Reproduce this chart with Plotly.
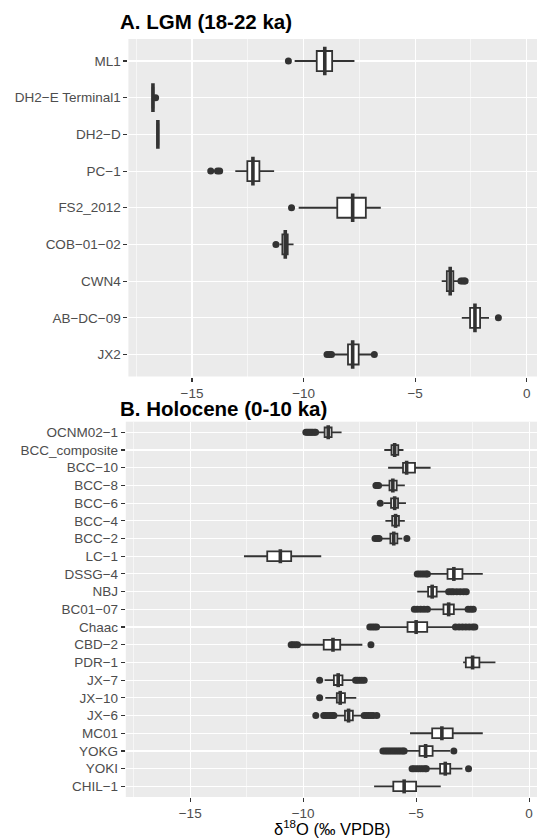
import plotly.graph_objects as go

# ---------------- Data ----------------
lgm_sites = ["ML1", "DH2−E Terminal1", "DH2−D", "PC−1", "FS2_2012",
             "COB−01−02", "CWN4", "AB−DC−09", "JX2"]
lgm_lower = [-10.40, -16.78, -16.56, -13.06, -10.22, -11.08, -3.81, -2.91, -8.64]
lgm_q1 = [-9.41, -16.77, -16.55, -12.52, -8.49, -10.95, -3.58, -2.54, -8.01]
lgm_median = [-9.05, -16.75, -16.53, -12.27, -7.80, -10.82, -3.43, -2.32, -7.80]
lgm_q3 = [-8.72, -16.73, -16.51, -11.98, -7.21, -10.71, -3.29, -2.09, -7.53]
lgm_upper = [-7.72, -16.70, -16.50, -11.32, -6.54, -10.45, -3.03, -1.69, -6.95]
lgm_outliers = {
    "ML1": [-10.68],
    "DH2−E Terminal1": [-16.63],
    "PC−1": [-14.16, -13.86, -13.76],
    "FS2_2012": [-10.54],
    "COB−01−02": [-11.24],
    "CWN4": [-2.95, -2.88, -2.80, -2.76],
    "AB−DC−09": [-1.27],
    "JX2": [-8.95, -8.85, -8.75, -6.83],
}

hol_sites = ["OCNM02−1", "BCC_composite", "BCC−10", "BCC−8", "BCC−6", "BCC−4",
             "BCC−2", "LC−1", "DSSG−4", "NBJ", "BC01−07", "Chaac", "CBD−2",
             "PDR−1", "JX−7", "JX−10", "JX−6", "MC01", "YOKG", "YOKI", "CHIL−1"]
hol_lower = [-9.39, -6.41, -6.24, -6.52, -6.44, -6.36, -6.56, -12.62, -4.47, -4.95,
             -4.39, -6.67, -10.20, -2.92, -9.05, -9.02, -8.56, -5.27, -5.49, -4.47, -6.86]
hol_q1 = [-9.05, -6.09, -5.58, -6.18, -6.11, -6.06, -6.14, -11.59, -3.61, -4.47,
          -3.79, -5.38, -9.09, -2.80, -8.64, -8.51, -8.15, -4.29, -4.85, -3.94, -6.01]
hol_median = [-8.89, -5.95, -5.42, -6.03, -5.95, -5.91, -5.99, -11.01, -3.33, -4.29,
              -3.56, -5.00, -8.68, -2.50, -8.45, -8.36, -7.99, -3.86, -4.58, -3.71, -5.53]
hol_q3 = [-8.74, -5.79, -5.05, -5.86, -5.80, -5.76, -5.83, -10.53, -2.95, -4.09,
          -3.33, -4.51, -8.36, -2.20, -8.26, -8.15, -7.80, -3.38, -4.27, -3.49, -5.00]
hol_upper = [-8.30, -5.56, -4.36, -5.50, -5.45, -5.50, -5.61, -9.20, -2.05, -3.64,
             -2.80, -3.33, -7.38, -1.49, -7.73, -7.65, -7.35, -2.05, -3.49, -2.95, -3.91]
hol_outliers = {
    "OCNM02−1": [-9.88, -9.82, -9.76, -9.70, -9.64, -9.58, -9.50, -9.45],
    "BCC−8": [-6.78, -6.72, -6.66],
    "BCC−6": [-6.59],
    "BCC−2": [-6.82, -6.72, -6.64, -5.41],
    "DSSG−4": [-4.95, -4.85, -4.75, -4.65, -4.55, -4.50],
    "NBJ": [-3.56, -3.45, -3.35, -3.20, -3.05, -2.90, -2.78],
    "BC01−07": [-5.08, -4.95, -4.80, -4.65, -4.50, -2.70, -2.58, -2.47],
    "Chaac": [-7.05, -6.95, -6.85, -6.75, -3.26, -3.10, -2.95, -2.80, -2.65, -2.50, -2.40],
    "CBD−2": [-10.53, -10.45, -10.35, -10.25, -7.00],
    "JX−7": [-9.27, -7.68, -7.60, -7.50, -7.40, -7.30],
    "JX−10": [-9.27],
    "JX−6": [-9.44, -9.09, -9.00, -8.90, -8.80, -8.70, -8.64,
             -7.30, -7.20, -7.10, -7.00, -6.90, -6.74],
    "YOKG": [-6.47, -6.38, -6.30, -6.22, -6.14, -6.06, -5.98, -5.90, -5.82,
             -5.74, -5.66, -5.58, -5.53, -3.33],
    "YOKI": [-5.18, -5.10, -5.00, -4.90, -4.80, -4.70, -4.60, -4.55, -2.68],
}

x_ticks = [-15, -10, -5, 0]
title_a = "A. LGM (18-22 ka)"
title_b = "B. Holocene (0-10 ka)"
x_title = "δ<sup>18</sup>O (‰ VPDB)"

# ---------------- Style ----------------
W, H = 537, 839
FONT = "Liberation Sans, Arial, Helvetica, sans-serif"
DARK = "#333333"
PANEL = "#EBEBEB"
TICKCOL = "#4D4D4D"


def py(px):
    return 1 - px / H


fig = go.Figure()


def add_panel(sites, lo, q1, med, q3, up, outs, xa, ya, med_size):
    fig.add_trace(go.Box(
        y=sites, q1=q1, median=med, q3=q3, lowerfence=lo, upperfence=up,
        orientation="h", fillcolor="white",
        line=dict(color=DARK, width=1.8), whiskerwidth=0,
        boxpoints=False, xaxis=xa, yaxis=ya, showlegend=False,
        hoverinfo="skip"))
    # thicker median lines (ggplot fatten = 2)
    fig.add_trace(go.Scatter(
        x=med, y=sites, mode="markers", xaxis=xa, yaxis=ya,
        marker=dict(symbol="line-ns", size=med_size,
                    line=dict(color=DARK, width=3.6)),
        showlegend=False, hoverinfo="skip"))
    ox, oy = [], []
    for s in sites:
        for v in outs.get(s, []):
            ox.append(v)
            oy.append(s)
    fig.add_trace(go.Scatter(
        x=ox, y=oy, mode="markers", xaxis=xa, yaxis=ya,
        marker=dict(color=DARK, size=7, line=dict(width=0)),
        showlegend=False, hoverinfo="skip"))


add_panel(lgm_sites, lgm_lower, lgm_q1, lgm_median, lgm_q3, lgm_upper,
          lgm_outliers, "x", "y", 20.5)
add_panel(hol_sites, hol_lower, hol_q1, hol_median, hol_q3, hol_upper,
          hol_outliers, "x2", "y2", 10)

xcommon = dict(
    tickvals=x_ticks, ticks="outside", ticklen=4, tickwidth=1.1, tickcolor=DARK,
    tickfont=dict(family=FONT, size=13.5, color=TICKCOL),
    showgrid=True, gridcolor="white", gridwidth=1.1,
    minor=dict(dtick=2.5, tick0=0, showgrid=True, gridcolor="white", gridwidth=0.55),
    zeroline=False, showline=False, fixedrange=True, automargin=False,
)
ycommon = dict(
    type="category", ticks="outside", ticklen=4, tickwidth=1.1, tickcolor=DARK,
    tickfont=dict(family=FONT, size=13.5, color=TICKCOL),
    showgrid=True, gridcolor="white", gridwidth=1.1,
    zeroline=False, showline=False, fixedrange=True, automargin=False,
)

fig.update_layout(
    width=W, height=H,
    margin=dict(l=0, r=0, t=0, b=0),
    paper_bgcolor="white", plot_bgcolor=PANEL,
    boxgap=0.22,
    showlegend=False,
    xaxis=dict(xcommon, domain=[128.4 / W, 1], range=[-17.85, 0.46], anchor="y"),
    yaxis=dict(ycommon, domain=[py(376.5), py(39)], anchor="x",
               categoryorder="array", categoryarray=lgm_sites,
               range=[len(lgm_sites) - 0.4, -0.6]),
    xaxis2=dict(xcommon, domain=[125.8 / W, 1], range=[-17.85, 0.35], anchor="y2"),
    yaxis2=dict(ycommon, domain=[py(797), py(421.7)], anchor="x2",
                categoryorder="array", categoryarray=hol_sites,
                range=[len(hol_sites) - 0.4, -0.6]),
    annotations=[
        dict(text="<b>" + title_a + "</b>", x=118 / W, y=py(22), xref="paper", yref="paper",
             xanchor="left", yanchor="middle", showarrow=False,
             font=dict(family=FONT, size=20.5, color="black")),
        dict(text="<b>" + title_b + "</b>", x=118 / W, y=py(408), xref="paper", yref="paper",
             xanchor="left", yanchor="middle", showarrow=False,
             font=dict(family=FONT, size=20.5, color="black")),
        dict(text=x_title, x=332 / W, y=py(828), xref="paper", yref="paper",
             xanchor="center", yanchor="middle", showarrow=False,
             font=dict(family=FONT, size=16.5, color="black")),
    ],
)

fig.write_html("out.html",
               config={"displayModeBar": False, "staticPlot": True},
               post_script="document.body.style.margin='0';document.body.style.overflow='hidden';")
